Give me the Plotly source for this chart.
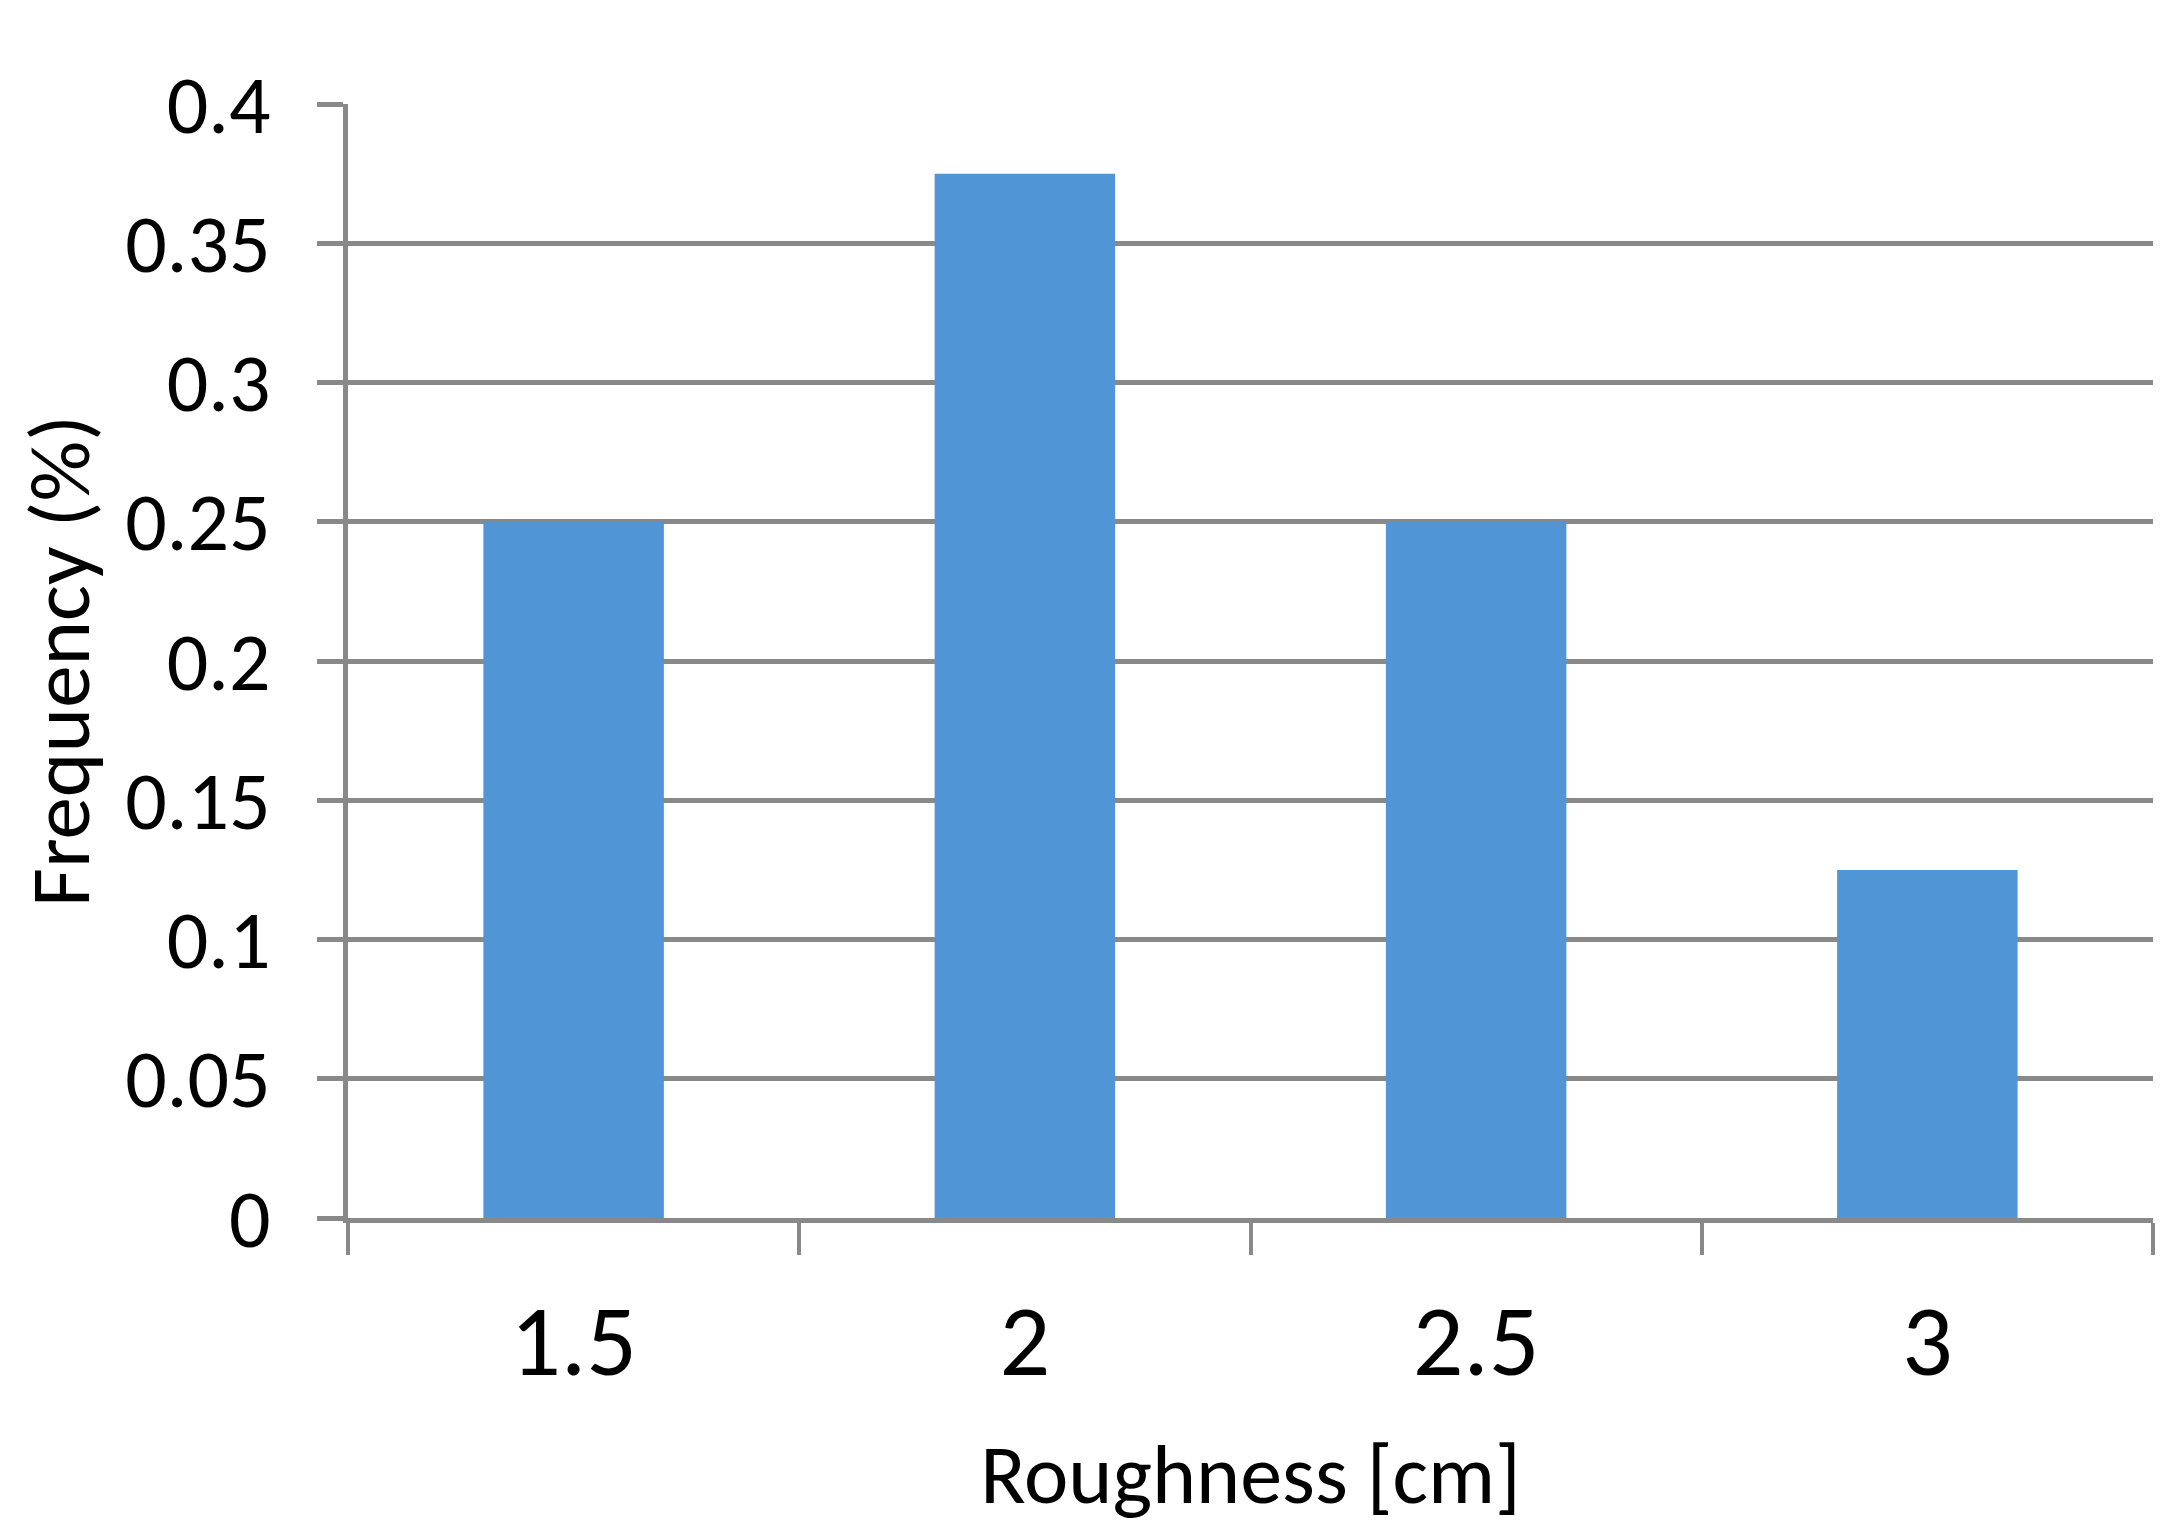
import plotly.graph_objects as go

# roughness bins and their relative frequency
roughness = ["1.5", "2", "2.5", "3"]
frequency = [0.25, 0.375, 0.25, 0.125]

y_ticks = [0, 0.05, 0.1, 0.15, 0.2, 0.25, 0.3, 0.35, 0.4]

grey = "#898989"
font = "Carlito, Lato, sans-serif"

fig = go.Figure()
fig.add_trace(go.Bar(x=roughness, y=frequency, marker=dict(color="#5096D6", line=dict(width=0)),
                     width=0.4, hoverinfo="x+y"))

# page body has an 8px margin, so the margins are nudged by that amount
fig.update_layout(
    width=2177, height=1538,
    margin=dict(l=340, r=32, t=96, b=328),
    paper_bgcolor="white", plot_bgcolor="white",
    font=dict(family=font, color="black"),
    showlegend=False,
    bargap=0.6,
)

fig.update_xaxes(
    type="category",
    tickson="boundaries",
    ticks="outside", ticklen=32, tickwidth=4, tickcolor=grey,
    showline=True, linewidth=5, linecolor=grey,
    showgrid=False,
    tickfont=dict(size=100),
    ticklabelstandoff=32,
    title=dict(text="Roughness [cm]", font=dict(size=84), standoff=45),
)

fig.update_yaxes(
    range=[0, 0.4],
    tickvals=y_ticks,
    ticktext=[f"{v:g}" for v in y_ticks],
    ticks="outside", ticklen=26, tickwidth=5, tickcolor=grey,
    showline=True, linewidth=5, linecolor=grey,
    showgrid=True, gridcolor=grey, gridwidth=5,
    zeroline=False,
    tickfont=dict(size=82),
    ticklabelstandoff=30,
    title=dict(text="Frequency (%)", font=dict(size=85), standoff=20),
)

fig.write_html("out.html")
